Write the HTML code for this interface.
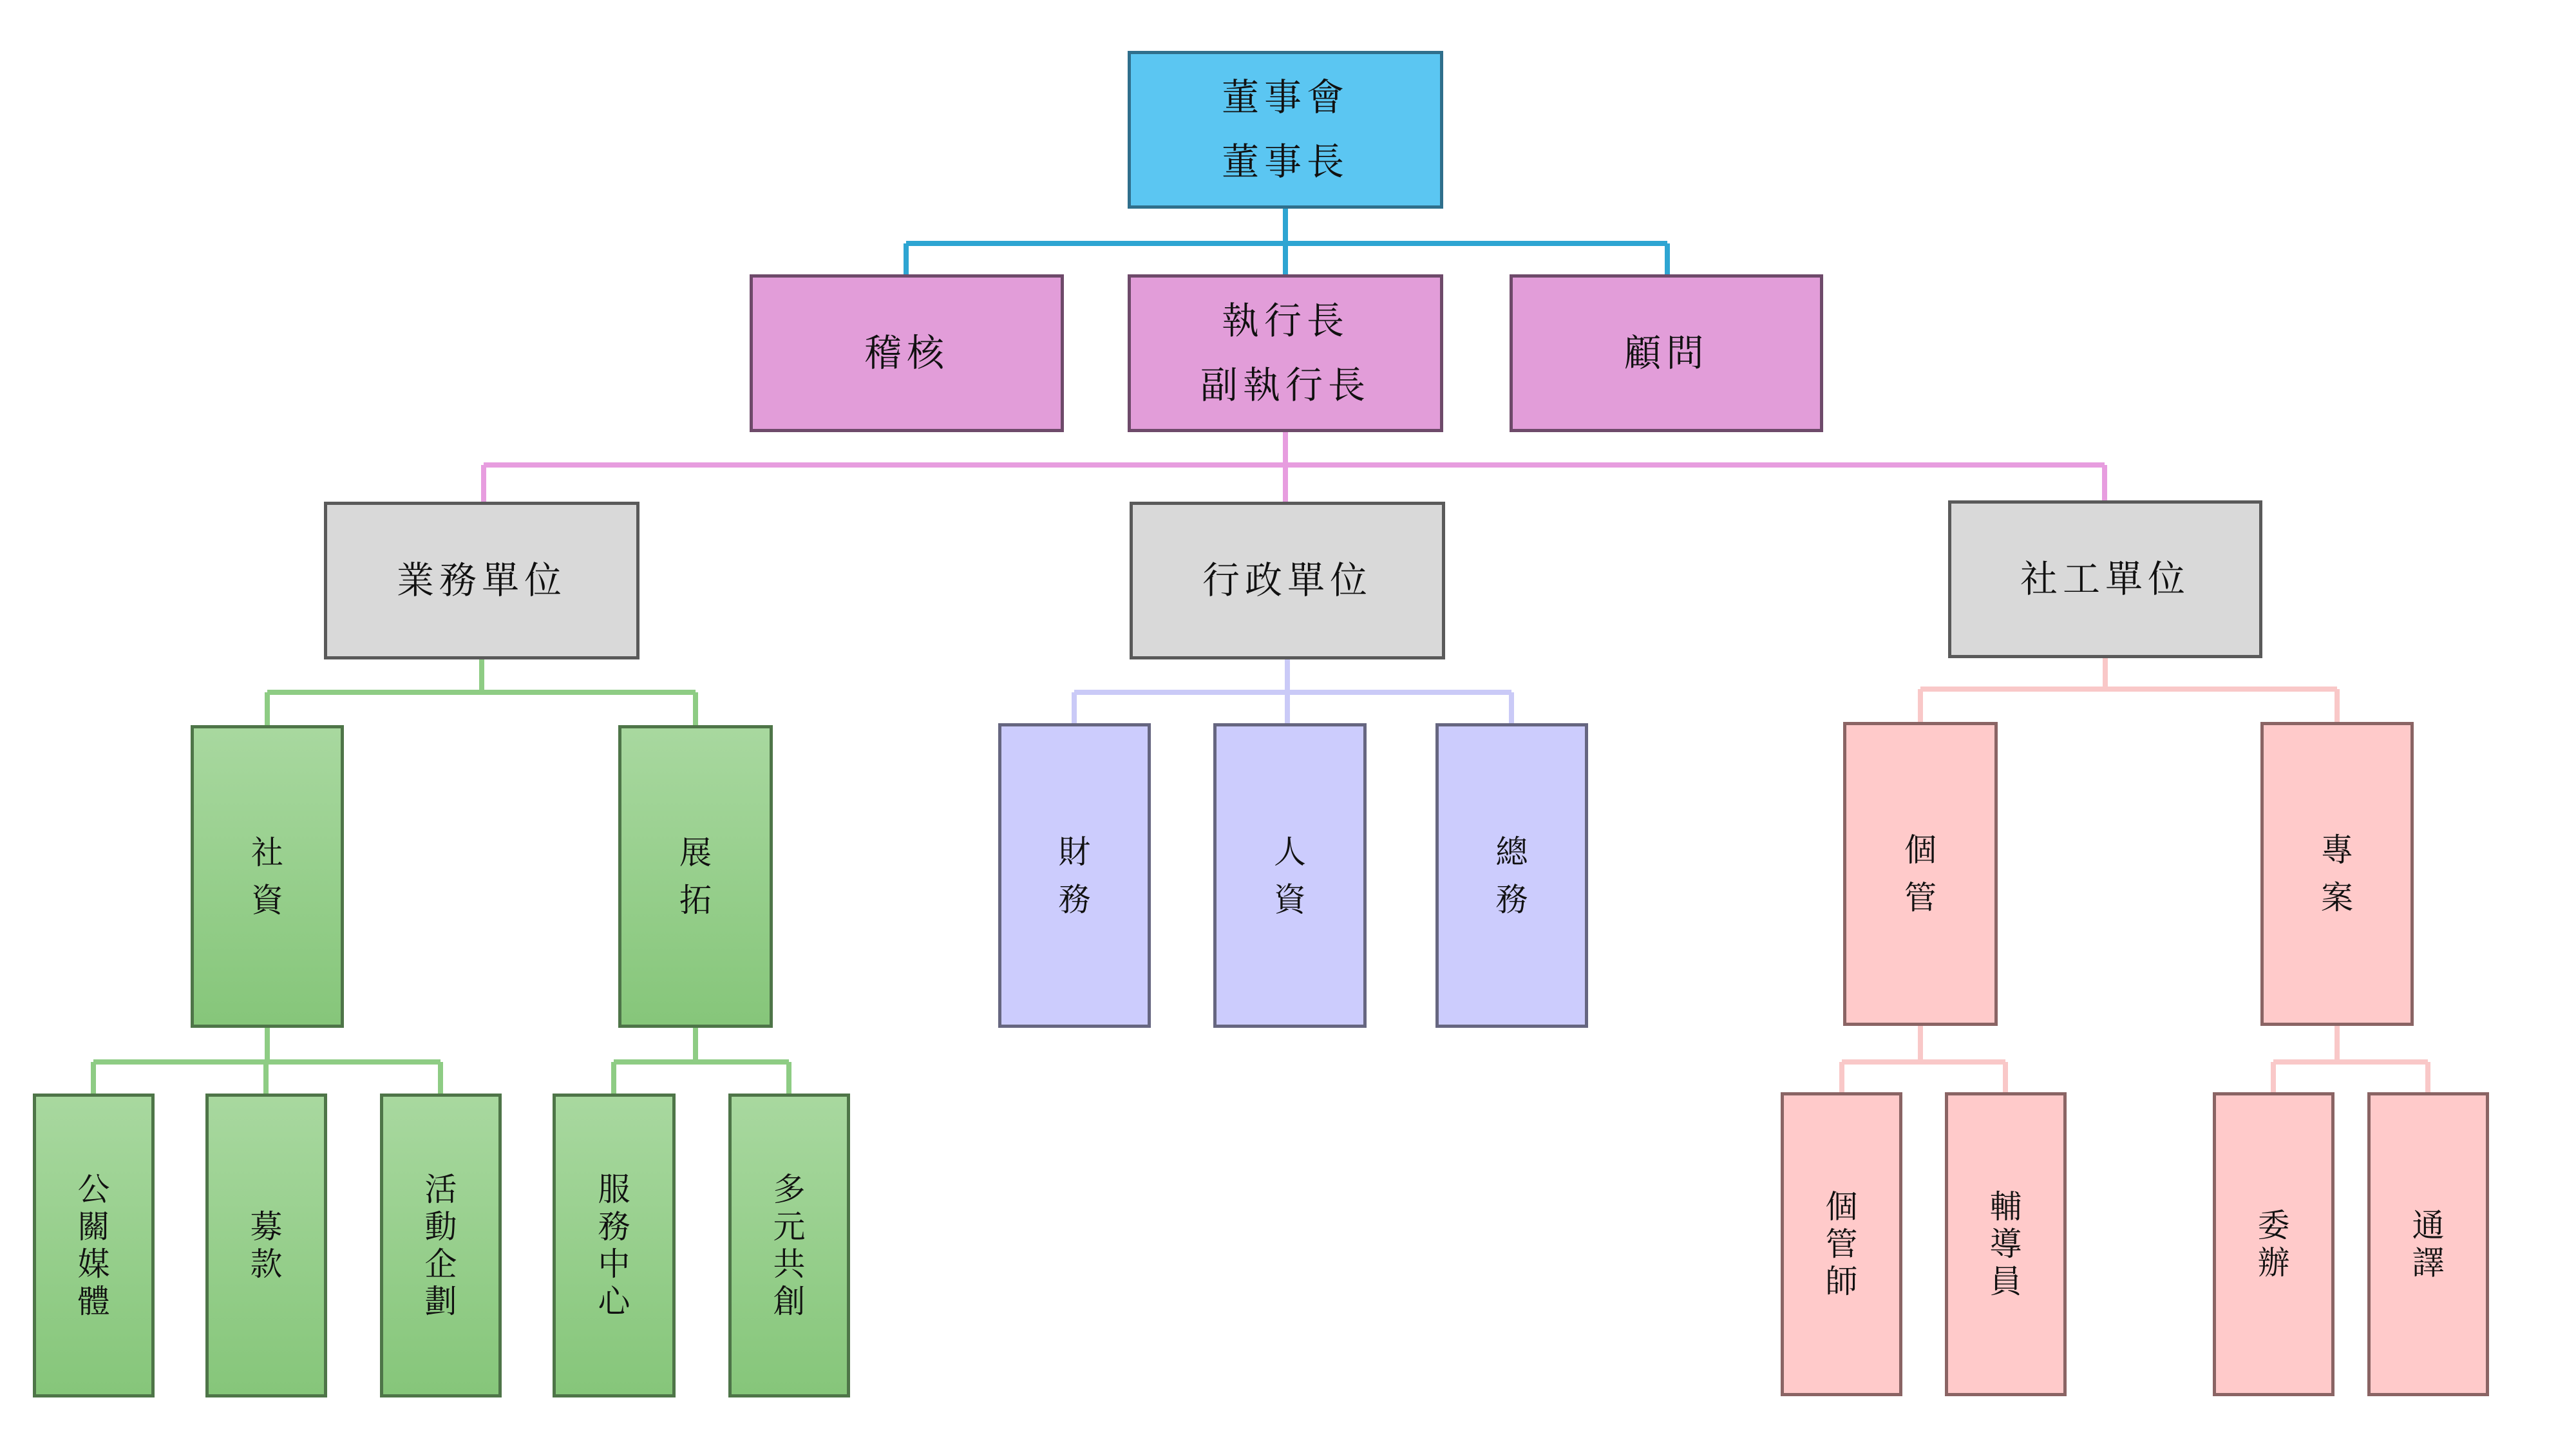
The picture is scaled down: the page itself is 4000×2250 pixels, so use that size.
<!DOCTYPE html>
<html><head><meta charset="utf-8"><style>
html,body{margin:0;padding:0;background:#fff;}
#c{position:relative;width:4000px;height:2250px;overflow:hidden;background:#fff;}
.b{position:absolute;box-sizing:border-box;border:5px solid #555;display:flex;align-items:center;justify-content:center;text-align:center;font-family:"Liberation Serif","Noto Serif CJK SC",serif;color:#111;}
.h{font-size:58px;line-height:100px;letter-spacing:8px;}
.v{font-size:50px;line-height:74px;}
.v2{font-size:50px;line-height:58px;}
.blue{background:#5bc6f2;border-color:#2f6f8c;}
.pink{background:#e29dd9;border-color:#6e4a6a;}
.gray{background:#d9d9d9;border-color:#5a5a5a;}
.green{background:linear-gradient(#a8d89f,#86c67a);border-color:#4e7548;}
.lav{background:#ccccfd;border-color:#666680;}
.sal{background:#ffcaca;border-color:#8a6464;}
svg{position:absolute;left:0;top:0;}
</style></head><body><div id="c">
<svg width="4000" height="2250" fill="none" stroke-width="8">
<g stroke="#2ea5d2"><path d="M1996 324V426M1407 378H2589M1407 378V426M2589 378V426"/></g>
<g stroke="#e79ddf"><path d="M1996 671V779M751 722H3268M751 722V779M3268 722V779"/></g>
<g stroke="#8ecc84"><path d="M748 1024V1075M415 1075H1080M415 1075V1126M1080 1075V1126"/>
<path d="M415 1596V1649M145 1649H684M145 1649V1698M413 1649V1698M684 1649V1698"/>
<path d="M1080 1596V1649M953 1649H1225M953 1649V1698M1225 1649V1698"/></g>
<g stroke="#cacaf7"><path d="M1999 1024V1126M1668 1075H2347M1668 1075V1126M2347 1075V1126"/></g>
<g stroke="#f9c8c8"><path d="M3269 1022V1070M2982 1070H3629M2982 1070V1121M3629 1070V1121"/>
<path d="M2982 1593V1649M2860 1649H3114M2860 1649V1698M3114 1649V1698"/>
<path d="M3629 1593V1649M3530 1649H3770M3530 1649V1698M3770 1649V1698"/></g>
</svg>
<div class="b blue h" style="left:1751px;top:79px;width:490px;height:245px">董事會<br>董事長</div>
<div class="b pink h" style="left:1164px;top:426px;width:488px;height:245px">稽核</div>
<div class="b pink h" style="left:1751px;top:426px;width:490px;height:245px">執行長<br>副執行長</div>
<div class="b pink h" style="left:2344px;top:426px;width:487px;height:245px">顧問</div>
<div class="b gray h" style="left:503px;top:779px;width:490px;height:245px">業務單位</div>
<div class="b gray h" style="left:1754px;top:779px;width:490px;height:245px">行政單位</div>
<div class="b gray h" style="left:3025px;top:777px;width:488px;height:245px">社工單位</div>
<div class="b green v" style="left:296px;top:1126px;width:238px;height:470px">社<br>資</div>
<div class="b green v" style="left:960px;top:1126px;width:240px;height:470px">展<br>拓</div>
<div class="b lav v" style="left:1550px;top:1123px;width:237px;height:473px">財<br>務</div>
<div class="b lav v" style="left:1884px;top:1123px;width:238px;height:473px">人<br>資</div>
<div class="b lav v" style="left:2229px;top:1123px;width:237px;height:473px">總<br>務</div>
<div class="b sal v" style="left:2862px;top:1121px;width:240px;height:472px">個<br>管</div>
<div class="b sal v" style="left:3510px;top:1121px;width:238px;height:472px">專<br>案</div>
<div class="b green v2" style="left:51px;top:1698px;width:189px;height:472px">公<br>關<br>媒<br>體</div>
<div class="b green v2" style="left:319px;top:1698px;width:189px;height:472px">募<br>款</div>
<div class="b green v2" style="left:590px;top:1698px;width:189px;height:472px">活<br>動<br>企<br>劃</div>
<div class="b green v2" style="left:858px;top:1698px;width:191px;height:472px">服<br>務<br>中<br>心</div>
<div class="b green v2" style="left:1131px;top:1698px;width:189px;height:472px">多<br>元<br>共<br>創</div>
<div class="b sal v2" style="left:2765px;top:1696px;width:189px;height:472px">個<br>管<br>師</div>
<div class="b sal v2" style="left:3020px;top:1696px;width:189px;height:472px">輔<br>導<br>員</div>
<div class="b sal v2" style="left:3436px;top:1696px;width:189px;height:472px">委<br>辦</div>
<div class="b sal v2" style="left:3676px;top:1696px;width:189px;height:472px">通<br>譯</div>
</div></body></html>
